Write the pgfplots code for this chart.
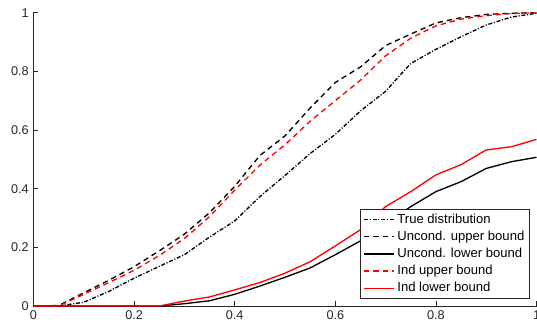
\documentclass[border=0pt]{standalone}
\usepackage{pgfplots}
\pgfplotsset{compat=1.18}
\usepackage{fontspec}
\setmainfont{Liberation Sans}
\definecolor{axgray}{gray}{0.15}
\begin{document}
\begin{tikzpicture}
\begin{axis}[
  at={(0,0)}, anchor=origin,
  x=377.25pt, y=220pt,
  xmin=0, xmax=1, ymin=0, ymax=1,
  axis lines=left,
  axis line style={axgray, line width=0.5pt, -},
  tick align=inside,
  major tick length=3.5pt,
  tick style={axgray, line width=0.5pt},
  xtick={0,0.2,0.4,0.6,0.8,1},
  ytick={0,0.2,0.4,0.6,0.8,1},
  xticklabels={0,0.2,0.4,0.6,0.8,1},
  yticklabels={0,0.2,0.4,0.6,0.8,1},
  tick label style={font=\fontsize{9.5}{11}\selectfont, text=axgray},
  clip=false,
  legend style={at={(0.987,0.024)}, anchor=south east, draw=axgray, line width=0.5pt,
    font=\fontsize{9.8}{11}\selectfont, row sep=0.3pt, inner xsep=2pt, inner ysep=1.5pt,
    legend cell align=left},
  legend image code/.code={\draw[line width=1pt, #1] (0pt,0pt) -- (22.5pt,0pt);},
]
\addplot[black, line width=1pt, dash pattern=on 3pt off 1.3pt on 0.8pt off 1.3pt] coordinates {
(0,0) (0.05,0) (0.1,0.013) (0.15,0.05) (0.2,0.095) (0.25,0.135) (0.3,0.175) (0.35,0.235)
(0.4,0.29) (0.45,0.373) (0.5,0.445) (0.55,0.52) (0.6,0.585) (0.65,0.665) (0.7,0.732)
(0.75,0.827) (0.8,0.875) (0.85,0.918) (0.9,0.958) (0.95,0.985) (1,0.998)};
\addlegendentry{True distribution}
\addplot[black, line width=1pt, dash pattern=on 4pt off 3pt] coordinates {
(0,0) (0.05,0.002) (0.1,0.045) (0.15,0.088) (0.2,0.134) (0.25,0.188) (0.3,0.245) (0.35,0.318)
(0.4,0.408) (0.45,0.513) (0.5,0.58) (0.55,0.675) (0.6,0.762) (0.65,0.815) (0.7,0.888)
(0.75,0.927) (0.8,0.965) (0.85,0.983) (0.9,0.994) (0.95,0.998) (1,1)};
\addlegendentry{Uncond. upper bound}
\addplot[black, line width=1pt] coordinates {
(0,0) (0.05,0) (0.1,0) (0.15,0) (0.2,0) (0.25,0) (0.3,0.008) (0.35,0.018)
(0.4,0.04) (0.45,0.068) (0.5,0.098) (0.55,0.13) (0.6,0.175) (0.65,0.222) (0.7,0.28)
(0.75,0.339) (0.8,0.39) (0.85,0.424) (0.9,0.469) (0.95,0.492) (1,0.507)};
\addlegendentry{Uncond. lower bound}
\addplot[red, line width=1pt, dash pattern=on 4pt off 3pt] coordinates {
(0,0) (0.05,0) (0.1,0.04) (0.15,0.08) (0.2,0.122) (0.25,0.172) (0.3,0.23) (0.35,0.305)
(0.4,0.395) (0.45,0.48) (0.5,0.55) (0.55,0.63) (0.6,0.70) (0.65,0.77) (0.7,0.853)
(0.75,0.913) (0.8,0.955) (0.85,0.978) (0.9,0.99) (0.95,0.997) (1,1)};
\addlegendentry{Ind upper bound}
\addplot[red, line width=1pt] coordinates {
(0,0) (0.05,0) (0.1,0) (0.15,0) (0.2,0) (0.25,0) (0.3,0.017) (0.35,0.031)
(0.4,0.055) (0.45,0.08) (0.5,0.112) (0.55,0.151) (0.6,0.205) (0.65,0.26) (0.7,0.339)
(0.75,0.39) (0.8,0.447) (0.85,0.482) (0.9,0.532) (0.95,0.543) (1,0.568)};
\addlegendentry{Ind lower bound}
\end{axis}
\pgfresetboundingbox
\path[use as bounding box] (-25.1pt,-18pt) rectangle (377.6pt,229.5pt);
\end{tikzpicture}
\end{document}
